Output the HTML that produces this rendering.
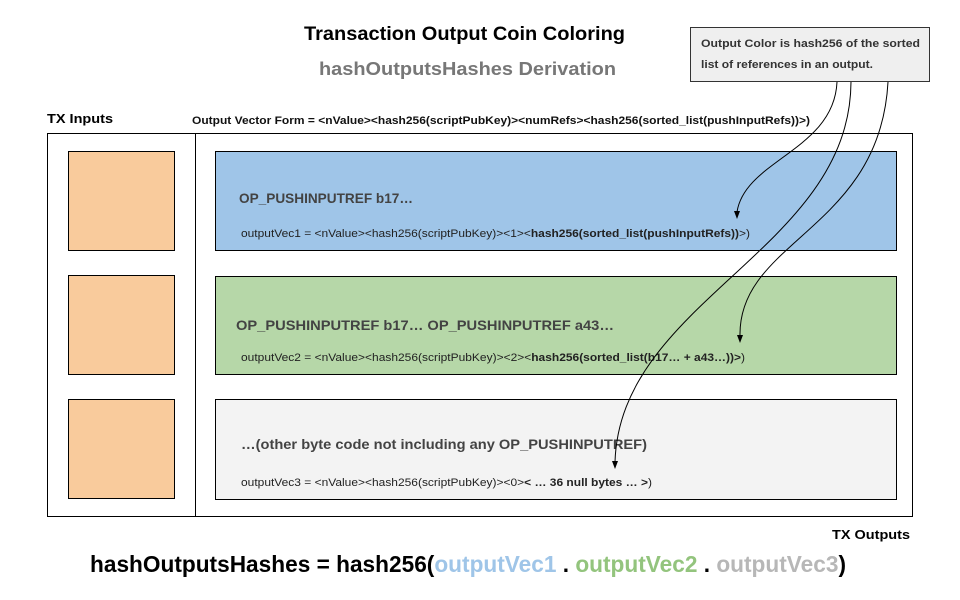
<!DOCTYPE html>
<html><head><meta charset="utf-8"><style>html,body{margin:0;padding:0;background:#fff}svg{display:block}</style></head>
<body>
<svg width="960" height="600" viewBox="0 0 960 600" xmlns="http://www.w3.org/2000/svg" font-family="Liberation Sans, Arial, sans-serif">
<rect width="960" height="600" fill="#fff"/>
<text x="304" y="40" font-size="19" font-weight="bold" fill="#000" textLength="321" lengthAdjust="spacingAndGlyphs">Transaction Output Coin Coloring</text>
<text x="319" y="75" font-size="18" font-weight="bold" fill="#777" textLength="297" lengthAdjust="spacingAndGlyphs">hashOutputsHashes Derivation</text>
<text x="47" y="123" font-size="13" font-weight="bold" textLength="66" lengthAdjust="spacingAndGlyphs">TX Inputs</text>
<text x="192" y="124" font-size="11" font-weight="bold" fill="#111" textLength="618" lengthAdjust="spacingAndGlyphs">Output Vector Form = &lt;nValue&gt;&lt;hash256(scriptPubKey)&gt;&lt;numRefs&gt;&lt;hash256(sorted_list(pushInputRefs))&gt;)</text>
<rect x="690.5" y="27.5" width="239" height="54" fill="#efefef" stroke="#333" stroke-width="1"/>
<text x="701" y="47" font-size="11" font-weight="bold" fill="#333" textLength="219" lengthAdjust="spacingAndGlyphs">Output Color is hash256 of the  sorted</text>
<text x="701" y="68" font-size="11" font-weight="bold" fill="#333" textLength="172" lengthAdjust="spacingAndGlyphs">list of references in an output.</text>
<rect x="47.5" y="133.5" width="865" height="383" fill="none" stroke="#000"/>
<line x1="195.5" y1="133" x2="195.5" y2="517" stroke="#000"/>
<rect x="68.5" y="151.5" width="106" height="99" fill="#f9cb9c" stroke="#000"/>
<rect x="68.5" y="275.5" width="106" height="99" fill="#f9cb9c" stroke="#000"/>
<rect x="68.5" y="399.5" width="106" height="99" fill="#f9cb9c" stroke="#000"/>
<rect x="215.5" y="151.5" width="681" height="99" fill="#9fc5e8" stroke="#000"/>
<rect x="215.5" y="276.5" width="681" height="98" fill="#b6d7a8" stroke="#000"/>
<rect x="215.5" y="399.5" width="681" height="100" fill="#f3f3f3" stroke="#000"/>
<text x="239" y="203" font-size="14" font-weight="bold" fill="#434343" textLength="174" lengthAdjust="spacingAndGlyphs">OP_PUSHINPUTREF b17…</text>
<text x="241" y="237" font-size="11" fill="#222" textLength="509" lengthAdjust="spacingAndGlyphs">outputVec1 = &lt;nValue&gt;&lt;hash256(scriptPubKey)&gt;&lt;1&gt;&lt;<tspan font-weight="bold">hash256(sorted_list(pushInputRefs))</tspan>&gt;)</text>
<text x="236" y="330" font-size="14" font-weight="bold" fill="#434343" textLength="378" lengthAdjust="spacingAndGlyphs">OP_PUSHINPUTREF b17… OP_PUSHINPUTREF a43…</text>
<text x="241" y="361" font-size="11" fill="#222" textLength="504" lengthAdjust="spacingAndGlyphs">outputVec2 = &lt;nValue&gt;&lt;hash256(scriptPubKey)&gt;&lt;2&gt;&lt;<tspan font-weight="bold">hash256(sorted_list(b17… + a43…))&gt;</tspan>)</text>
<text x="241" y="449" font-size="14" font-weight="bold" fill="#434343" textLength="406" lengthAdjust="spacingAndGlyphs">…(other byte code not including any OP_PUSHINPUTREF)</text>
<text x="241" y="486" font-size="11" fill="#222" textLength="411" lengthAdjust="spacingAndGlyphs">outputVec3 = &lt;nValue&gt;&lt;hash256(scriptPubKey)&gt;&lt;0&gt;<tspan font-weight="bold">&lt; … 36 null bytes … &gt;</tspan>)</text>
<g fill="none" stroke="#000" stroke-width="1">
<path d="M837 82 C834 150 745 160 737 212"/>
<path d="M851 82 C850 250 620 300 615 462"/>
<path d="M888 82 C880 230 738 240 740 336"/>
</g>
<g fill="#000">
<path d="M734 211 L737 219 L740 211 Z"/>
<path d="M612 461 L615 469 L618 461 Z"/>
<path d="M737 335 L740 343 L743 335 Z"/>
</g>
<text x="832" y="539" font-size="13" font-weight="bold" textLength="78" lengthAdjust="spacingAndGlyphs">TX Outputs</text>
<text x="90" y="572" font-size="23" font-weight="bold" textLength="756" lengthAdjust="spacingAndGlyphs">hashOutputsHashes = hash256(<tspan fill="#9fc5e8">outputVec1</tspan> . <tspan fill="#93c47d">outputVec2</tspan> . <tspan fill="#b7b7b7">outputVec3</tspan>)</text>
</svg>
</body></html>
